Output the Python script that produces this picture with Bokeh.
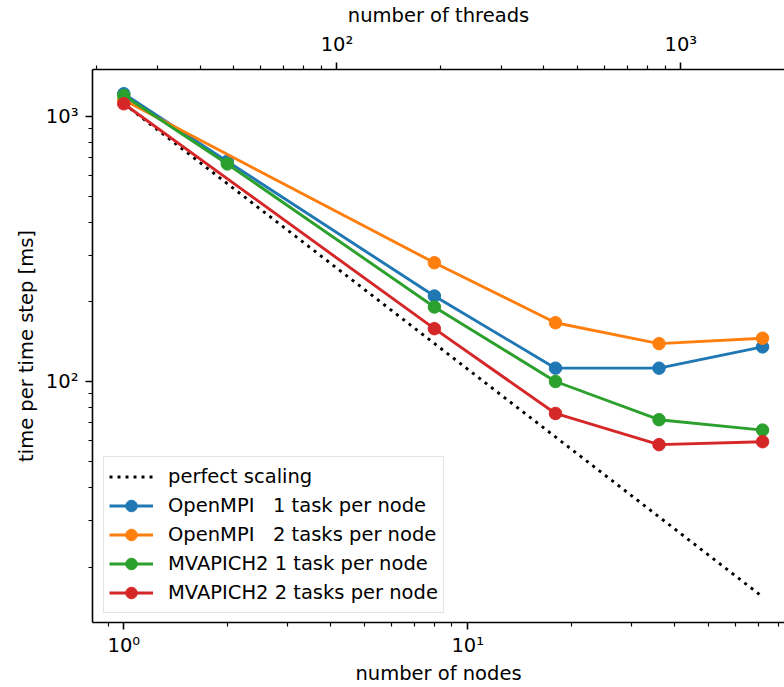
from bokeh.plotting import figure
from bokeh.models import LogAxis, Range1d, LogScale, FixedTicker
from bokeh.embed import file_html
from bokeh.resources import INLINE

# ---- data ----
nodes = [1, 2, 8, 18, 36, 72]
nodes_no2 = [1, 8, 18, 36, 72]
openmpi_1 = [1217, 677, 210.5, 112.6, 112.6, 135.4]
openmpi_2 = [1152, 281, 167, 139.3, 146.0]
mvapich_1 = [1199, 662, 191.4, 100.3, 72.0, 65.8]
mvapich_2 = [1116, 158.6, 76.0, 58.0, 59.5]
perfect_nodes = [1, 72]
perfect_time = [1116, 15.5]
threads_per_node = 24

labels = ["OpenMPI   1 task per node", "OpenMPI   2 tasks per node",
          "MVAPICH2 1 task per node", "MVAPICH2 2 tasks per node"]
colors = ["#1f77b4", "#ff7f0e", "#2ca02c", "#d62728"]

x_start, x_end = 0.811, 83.4
y_start, y_end = 12.4, 1502

FONT = "DejaVu Sans"
FS = "19.5px"

p = figure(width=784, height=687, x_axis_type="log", y_axis_type="log",
           x_range=Range1d(x_start, x_end), y_range=Range1d(y_start, y_end),
           output_backend="svg", toolbar_location=None,
           min_border_left=92, min_border_right=0, min_border_top=68, min_border_bottom=65,
           background_fill_color="white", border_fill_color="white")
p.outline_line_color = None
p.grid.visible = False

p.extra_x_ranges = {"threads": Range1d(x_start * threads_per_node, x_end * threads_per_node)}
p.extra_x_scales = {"threads": LogScale()}
top = LogAxis(x_range_name="threads", axis_label="number of threads")
p.add_layout(top, "above")

sup = {0: "\u2070", 1: "\u00b9", 2: "\u00b2", 3: "\u00b3"}

def minors(decades):
    out = []
    for d in decades:
        out += [k * 10 ** d for k in range(2, 10)]
    return out

xa = p.below[0]
ya = p.left[0]
xa.axis_label = "number of nodes"
ya.axis_label = "time per time step [ms]"
xa.ticker = FixedTicker(ticks=[1, 10], minor_ticks=[0.9] + minors([0, 1]))
xa.major_label_overrides = {1: "10" + sup[0], 10: "10" + sup[1]}
ya.ticker = FixedTicker(ticks=[100, 1000], minor_ticks=minors([1, 2]))
ya.major_label_overrides = {100: "10" + sup[2], 1000: "10" + sup[3]}
top.ticker = FixedTicker(ticks=[100, 1000], minor_ticks=minors([1, 2]))
top.major_label_overrides = {100: "10" + sup[2], 1000: "10" + sup[3]}

for ax in [xa, ya, top]:
    ax.axis_line_width = 1.6
    ax.axis_line_color = "black"
    ax.major_tick_line_width = 1.55
    ax.minor_tick_line_width = 1.15
    ax.major_tick_line_color = "black"
    ax.minor_tick_line_color = "black"
    ax.major_tick_out = 7
    ax.major_tick_in = 0
    ax.minor_tick_out = 4
    ax.minor_tick_in = 0
    ax.major_label_text_font = FONT
    ax.major_label_text_font_size = FS
    ax.major_label_text_color = "black"
    ax.axis_label_text_font = FONT
    ax.axis_label_text_font_size = FS
    ax.axis_label_text_font_style = "normal"
    ax.axis_label_text_color = "black"
    ax.major_label_standoff = 7
xa.major_label_standoff = 4
xa.axis_label_standoff = 2
ya.axis_label_standoff = 5
top.axis_label_standoff = 3

# ---- glyphs ----
p.line(perfect_nodes, perfect_time, line_color="black", line_width=2.9,
       line_dash="3 5", legend_label="perfect scaling")

series = [(nodes, openmpi_1), (nodes_no2, openmpi_2), (nodes, mvapich_1), (nodes_no2, mvapich_2)]
for (xs, ys), lab, col in zip(series, labels, colors):
    p.line(xs, ys, line_color=col, line_width=2.9, legend_label=lab)
    p.scatter(xs, ys, size=12.5, fill_color=col, line_color=col, legend_label=lab)

lg = p.legend[0]
lg.location = (11, 9)
lg.label_text_font = FONT
lg.label_text_font_size = FS
lg.label_text_color = "black"
lg.glyph_width = 44
lg.glyph_height = 29
lg.label_height = 29
lg.spacing = 0
lg.padding = 5
lg.margin = 0
lg.label_standoff = 15
lg.border_line_color = "#cccccc"
lg.border_line_width = 1.5
lg.background_fill_color = "white"
lg.background_fill_alpha = 0.8

open("out.html", "w").write(file_html(p, INLINE))
